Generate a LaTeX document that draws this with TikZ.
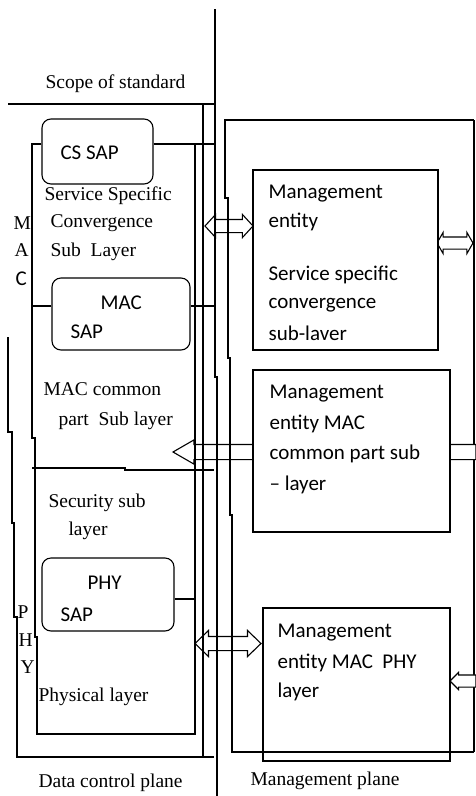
\documentclass[tikz,border=0pt]{standalone}
\usepackage{fontspec}
\setmainfont{Liberation Serif}
\newfontfamily\calfont{Carlito}
\usetikzlibrary{shapes.arrows}

\begin{document}
\begin{tikzpicture}[x=1pt, y=-1pt, line width=1.1pt,
    sap/.style={draw, rounded corners=9pt},
    entity/.style={draw, fill=white},
    lbl/.style={anchor=base west, inner sep=0pt, font=\fontsize{19.5}{24}\selectfont},
    ent/.style={anchor=base west, inner sep=0pt, font=\calfont\fontsize{21}{26}\selectfont},
    blkarr/.style={draw, fill=white, inner xsep=0pt, outer sep=0pt},
    twoway/.style={blkarr, double arrow},
    oneway/.style={blkarr, single arrow, shape border rotate=180}]
    \useasboundingbox (0,0) rectangle (476,796);
    %
    % right side of the management plane, under the arrows
    \draw (474,120) -- (474,752);
    %
    \node[oneway, anchor=tip, minimum height=303, inner ysep=7pt,
        single arrow head extend=4.5pt, single arrow tip angle=60] (arrC) at (173,452) {};
    \node[twoway, anchor=tip 2, minimum height=48, inner ysep=6pt,
        double arrow head extend=5pt, double arrow tip angle=95] (arrA) at (205,226) {};
    \node[twoway, anchor=tip 2, minimum height=36, inner ysep=5.5pt,
        double arrow head extend=4.5pt, double arrow tip angle=120] (arrB) at (437,243) {};
    \node[twoway, anchor=tip 2, minimum height=66, inner ysep=6.5pt,
        double arrow head extend=6pt, double arrow tip angle=88] (arrE) at (195,643.5) {};
    \node[oneway, anchor=tip, minimum height=26, inner ysep=5.5pt,
        single arrow head extend=2.5pt, single arrow tip angle=90] (arrD) at (450,681) {};
    %
    \node[entity, minimum width=185, minimum height=180] (ment1) at (345.5,260) {};
    \node[entity, minimum width=197, minimum height=162] (ment2) at (351.5,451) {};
    \node[entity, minimum width=187, minimum height=153] (ment3) at (356.5,684.5) {};
    %
    \node[sap, minimum width=111, minimum height=65] (cssap) at (97.5,151.5) {};
    \node[sap, minimum width=138, minimum height=72] (macsap) at (121,314) {};
    \node[sap, minimum width=132, minimum height=73] (physap) at (108,594.5) {};
    %
    % data plane
    \draw (8,104) -- (215,104);
    \draw (215,9) -- (215,377) -- (217,377) -- (217,796);
    \draw (203,104) -- (203,757);
    \draw (cssap.east |- 0,144) -- (215,144);
    \draw (cssap.west |- 0,144) -- (32,144) -- (32,438) -- (35,438) -- (35,637)
        -- (37,637) -- (37,734) -- (195,734) -- (195,144);
    \draw (macsap.west |- 0,306) -- (32,306);
    \draw (macsap.east |- 0,306) -- (215,306);
    \draw (32,468) -- (125,468) -- (125,470) -- (214,470);
    \draw (physap.east |- 0,599) -- (195,599);
    \draw (8,337) -- (8,432) -- (12,432) -- (12,523) -- (14,523) -- (14,617)
        -- (17,617) -- (17,757) -- (214,757);
    % management plane
    \draw (474,120) -- (225,120) -- (225,198) -- (228,198) -- (228,358) -- (230,358)
        -- (230,515) -- (232,515) -- (232,752) -- (474,752);
    %
    \node[lbl] (scope) at (45,88) {Scope of standard};
    \node[ent] (csl) at (60,159) {CS SAP};
    \node[lbl] (ssc1) at (44,200) {Service Specific};
    \node[lbl] (ssc2) at (50,227) {Convergence};
    \node[lbl] (ssc3) at (50,256) {Sub\ \ Layer};
    \node[lbl] (macM) at (13,229) {M};
    \node[lbl] (macA) at (14,256) {A};
    \node[ent] (macC) at (15,285) {C};
    \node[ent] (macl1) at (100,309) {MAC};
    \node[ent] (macl2) at (70,338) {SAP};
    \node[lbl] (mcp1) at (43,395) {MAC common};
    \node[lbl] (mcp2) at (58,425) {part\ \ Sub layer};
    \node[lbl] (sec1) at (48,507) {Security sub};
    \node[lbl] (sec2) at (68,535) {layer};
    \node[ent] (phyl1) at (87,589) {PHY};
    \node[ent] (phyl2) at (60,621) {SAP};
    \node[lbl] (phyP) at (17,618) {P};
    \node[lbl] (phyH) at (18,646) {H};
    \node[lbl] (phyY) at (20,673) {Y};
    \node[lbl] (phys) at (38,701) {Physical layer};
    \node[lbl] (dcp) at (38,787) {Data control plane};
    \node[lbl] (mgp) at (250,785) {Management plane};
    %
    \node[ent] (e1a) at (268,198) {Management};
    \node[ent] (e1b) at (268,227) {entity};
    \node[ent] (e1c) at (268,280) {Service specific};
    \node[ent] (e1d) at (268,308) {convergence};
    \node[ent] (e1e) at (268,340) {sub-laver};
    \node[ent] (e2a) at (269,398) {Management};
    \node[ent] (e2b) at (269,429) {entity MAC};
    \node[ent] (e2c) at (269,459) {common part sub};
    \node[ent] (e2d) at (269,490) {\textendash\ layer};
    \node[ent] (e3a) at (277,637) {Management};
    \node[ent] (e3b) at (277,668) {entity MAC\ \ PHY};
    \node[ent] (e3c) at (277,697) {layer};
\end{tikzpicture}
\end{document}
